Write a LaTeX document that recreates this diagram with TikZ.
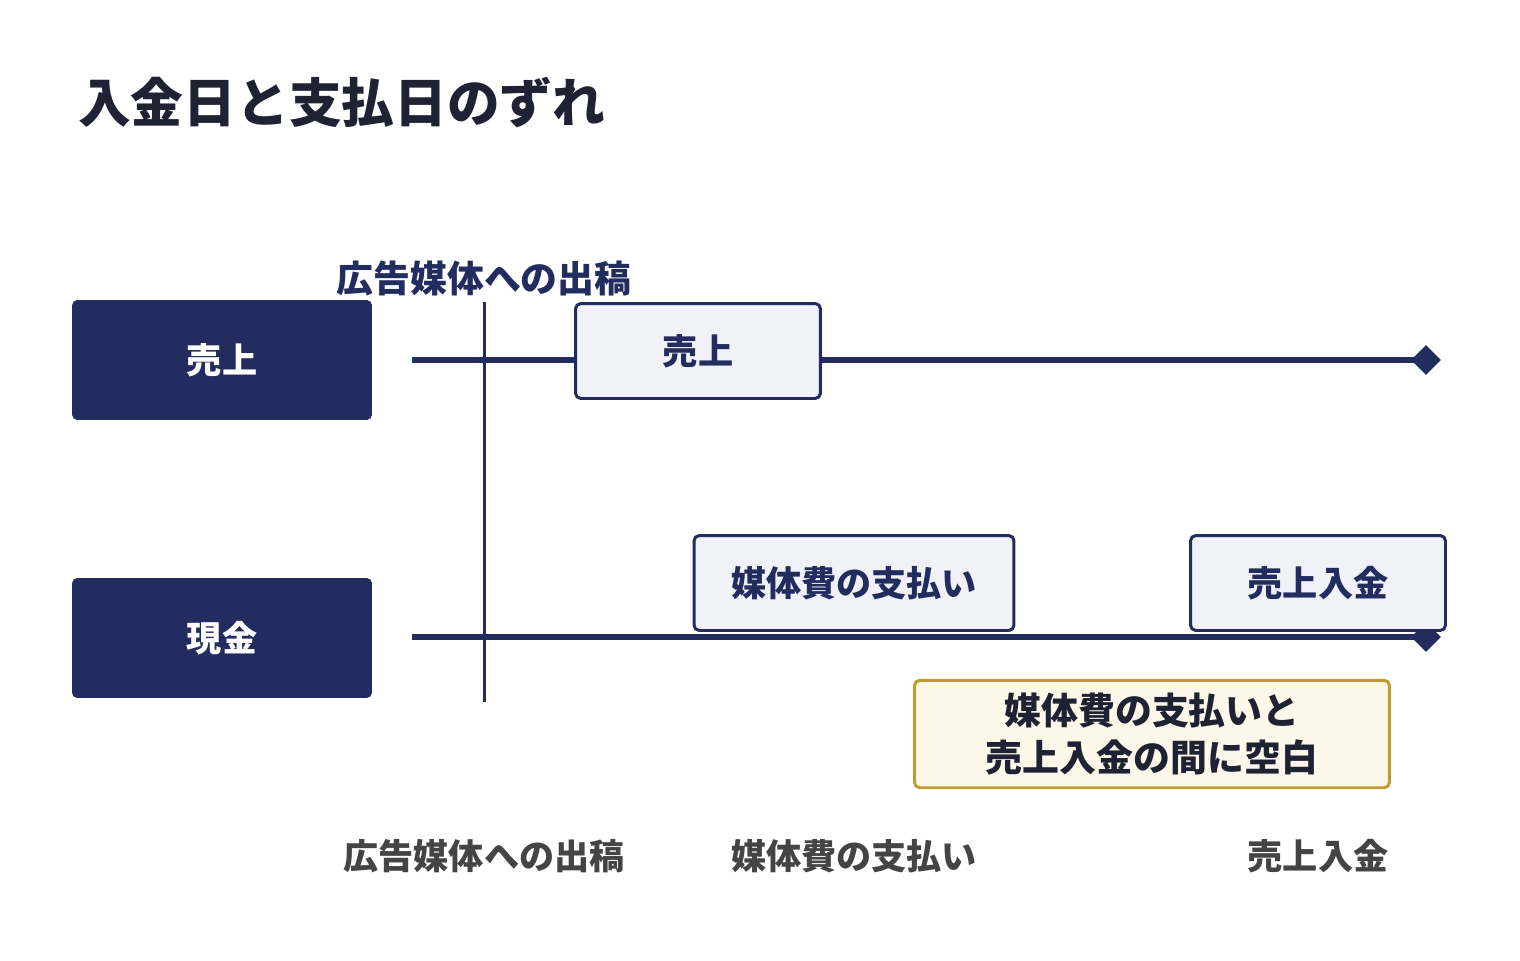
\documentclass[tikz,border=0pt]{standalone}
\usepackage{fontspec}
\setmainfont{Noto Sans CJK JP}
\usetikzlibrary{positioning,shapes.geometric}
\definecolor{navy}{HTML}{222C5E}
\definecolor{pale}{HTML}{F0F2F8}
\definecolor{cream}{HTML}{FDF8EA}
\definecolor{gold}{HTML}{C49A30}
\definecolor{ink}{HTML}{1E2233}
\definecolor{greytxt}{HTML}{444444}
\tikzset{
  row/.style={fill=navy, text=white, rounded corners=3pt, minimum width=6cm, minimum height=2.4cm, font=\fontsize{20}{24}\selectfont\bfseries},
  event/.style={fill=pale, draw=navy, line width=1.7pt, rounded corners=3pt, minimum height=1.9cm, text=navy, font=\fontsize{20}{24}\selectfont\bfseries},
  axis/.style={draw=navy, line width=3.4pt},
  tip/.style={diamond, fill=navy, minimum size=0.6cm, inner sep=0pt},
  foot/.style={text=greytxt, font=\fontsize{20}{24}\selectfont\bfseries}
}
\begin{document}
\begin{tikzpicture}[x=0.02cm,y=-0.02cm]
  \useasboundingbox (0,0) rectangle (1520,960);
  % title
  \node[anchor=west, text=ink, font=\fontsize{30}{36}\selectfont\bfseries] (title) at (72,102) {入金日と支払日のずれ};
  % rows
  \node[row] (sales) at (222,360) {売上};
  \node[row] (cash) at (222,638) {現金};
  \coordinate (s0) at (412,360);
  \coordinate (c0) at (412,637);
  \node[tip] (send) at (1426,360) {};
  \node[tip] (cend) at (1426,637) {};
  \draw[axis] (s0) -- (send.center);
  \draw[axis] (c0) -- (cend.center);
  % start marker
  \coordinate (vtop) at (484,302);
  \coordinate (vbot) at (484,702);
  \draw[draw=navy, line width=1.7pt] (vtop) -- (vbot);
  \node[fill=white, text=navy, inner sep=2pt, font=\fontsize{21}{25}\selectfont\bfseries] (order) at (484,278) {広告媒体への出稿};
  % events
  \node[event, minimum width=4.9cm] (ev1) at (698,351) {売上};
  \node[event, minimum width=6.4cm] (ev2) at (854,583) {媒体費の支払い};
  \node[event, minimum width=5.1cm] (ev3) at (1318,583) {売上入金};
  % note
  \node[fill=cream, draw=gold, line width=1.7pt, rounded corners=3pt, minimum width=9.5cm, minimum height=2.15cm, align=center, text=ink, font=\fontsize{21}{27}\selectfont\bfseries] (gap) at (1152,734) {媒体費の支払いと\\売上入金の間に空白};
  % bottom labels
  \node[foot] (f1) at (484,856) {広告媒体への出稿};
  \node[foot] (f2) at (854,856) {媒体費の支払い};
  \node[foot] (f3) at (1318,856) {売上入金};
\end{tikzpicture}
\end{document}
